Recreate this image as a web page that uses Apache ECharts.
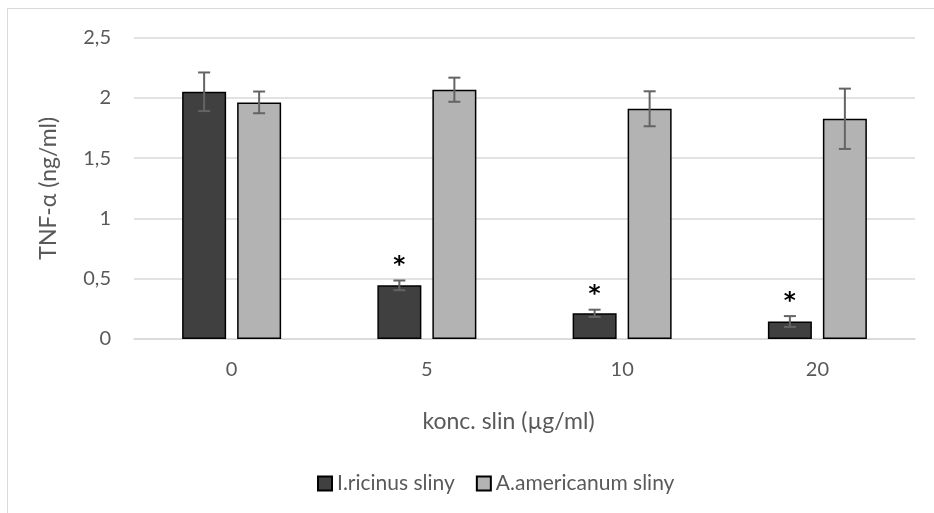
<!DOCTYPE html>
<html>
<head>
<meta charset="utf-8">
<script src="https://cdn.jsdelivr.net/npm/echarts@6/dist/echarts.min.js"></script>
<style>
  html, body { margin: 0; padding: 0; background: #ffffff; }
  #chart { width: 934px; height: 513px; }
  #frame { position: absolute; left: 7px; top: 8px; width: 990px; height: 540px;
           border: 1.5px solid #d9d9d9; pointer-events: none; }
</style>
</head>
<body>
<div id="chart"></div>
<div id="frame"></div>
<script>
// Concentrations of saliva (µg/ml)
const categories = ['0', '5', '10', '20'];
// TNF-α (ng/ml), means and error (±)
const ricinusValues = [2.05, 0.445, 0.213, 0.145];
const ricinusErrors = [0.16, 0.04, 0.03, 0.045];
const americanumValues = [1.962, 2.067, 1.909, 1.826];
const americanumErrors = [0.09, 0.10, 0.145, 0.25];
// significance markers for I. ricinus
const ricinusSignificant = [false, true, true, true];

const seriesNames = ['I.ricinus sliny', 'A.americanum sliny'];
const yTicks = { min: 0, max: 2.5, interval: 0.5 };

const FONT = 'Lato, "Open Sans", sans-serif';
const TEXT = '#595959';
const BAR_W = 44;
const BAR_GAP = 11;

function errorSeries(values, errors, marks, side) {
  const data = values.map((v, i) => [i, v, errors[i], marks ? (marks[i] ? 1 : 0) : 0]);
  return {
    type: 'custom',
    silent: true,
    z: 5,
    data: data,
    encode: { x: 0, y: 1 },
    renderItem: function (params, api) {
      const idx = api.value(0);
      const val = api.value(1);
      const err = api.value(2);
      const star = api.value(3);
      const offset = side * (BAR_W + BAR_GAP) / 2;
      const top = api.coord([idx, val + err]);
      const bot = api.coord([idx, val - err]);
      const x = top[0] + offset;
      const cap = 6;
      const style = { stroke: '#646464', lineWidth: 2 };
      const children = [
        { type: 'line', shape: { x1: x, y1: top[1], x2: x, y2: bot[1] }, style },
        { type: 'line', shape: { x1: x - cap, y1: top[1], x2: x + cap, y2: top[1] }, style },
        { type: 'line', shape: { x1: x - cap, y1: bot[1], x2: x + cap, y2: bot[1] }, style }
      ];
      if (star) {
        children.push({
          type: 'text',
          style: {
            text: '*', x: x, y: top[1] - 3,
            align: 'center', verticalAlign: 'bottom',
            font: 'bold 23px "DejaVu Sans", sans-serif', fill: '#000000'
          }
        });
      }
      return { type: 'group', children };
    }
  };
}

const chart = echarts.init(document.getElementById('chart'), null, { renderer: 'canvas' });
chart.setOption({
  animation: false,
  backgroundColor: '#ffffff',
  grid: { left: 134, right: 19, top: 37.5, bottom: 174, containLabel: false },
  legend: {
    bottom: 14,
    left: 312,
    itemWidth: 14,
    itemHeight: 14,
    itemGap: 21,
    icon: 'rect',
    data: seriesNames,
    textStyle: { color: TEXT, fontSize: 21, fontFamily: FONT }
  },
  xAxis: {
    type: 'category',
    data: categories,
    name: 'konc. slin (µg/ml)',
    nameLocation: 'middle',
    nameGap: 71,
    nameTextStyle: { color: TEXT, fontSize: 23, fontFamily: FONT, padding: [0, 32, 0, 0] },
    axisLine: { show: true, lineStyle: { color: '#d9d9d9', width: 1.5 } },
    axisTick: { show: false },
    axisLabel: { color: TEXT, fontSize: 20, fontFamily: FONT, margin: 21 }
  },
  yAxis: {
    type: 'value',
    min: yTicks.min,
    max: yTicks.max,
    interval: yTicks.interval,
    name: 'TNF-α (ng/ml)',
    nameLocation: 'middle',
    nameGap: 74,
    nameTextStyle: { color: TEXT, fontSize: 23, fontFamily: FONT },
    axisLine: { show: false },
    axisTick: { show: false },
    splitLine: { lineStyle: { color: '#d9d9d9', width: 1.5 } },
    axisLabel: {
      color: TEXT, fontSize: 20, fontFamily: FONT, margin: 23,
      formatter: v => String(v).replace('.', ',')
    }
  },
  series: [
    {
      name: seriesNames[0],
      type: 'bar',
      data: ricinusValues,
      barWidth: BAR_W,
      barGap: (BAR_GAP / BAR_W * 100) + '%',
      itemStyle: { color: '#404040', borderColor: '#000000', borderWidth: 1.5 }
    },
    {
      name: seriesNames[1],
      type: 'bar',
      data: americanumValues,
      barWidth: BAR_W,
      barGap: (BAR_GAP / BAR_W * 100) + '%',
      itemStyle: { color: '#b3b3b3', borderColor: '#000000', borderWidth: 1.5 }
    },
    errorSeries(ricinusValues, ricinusErrors, ricinusSignificant, -1),
    errorSeries(americanumValues, americanumErrors, null, 1)
  ]
});
</script>
</body>
</html>
